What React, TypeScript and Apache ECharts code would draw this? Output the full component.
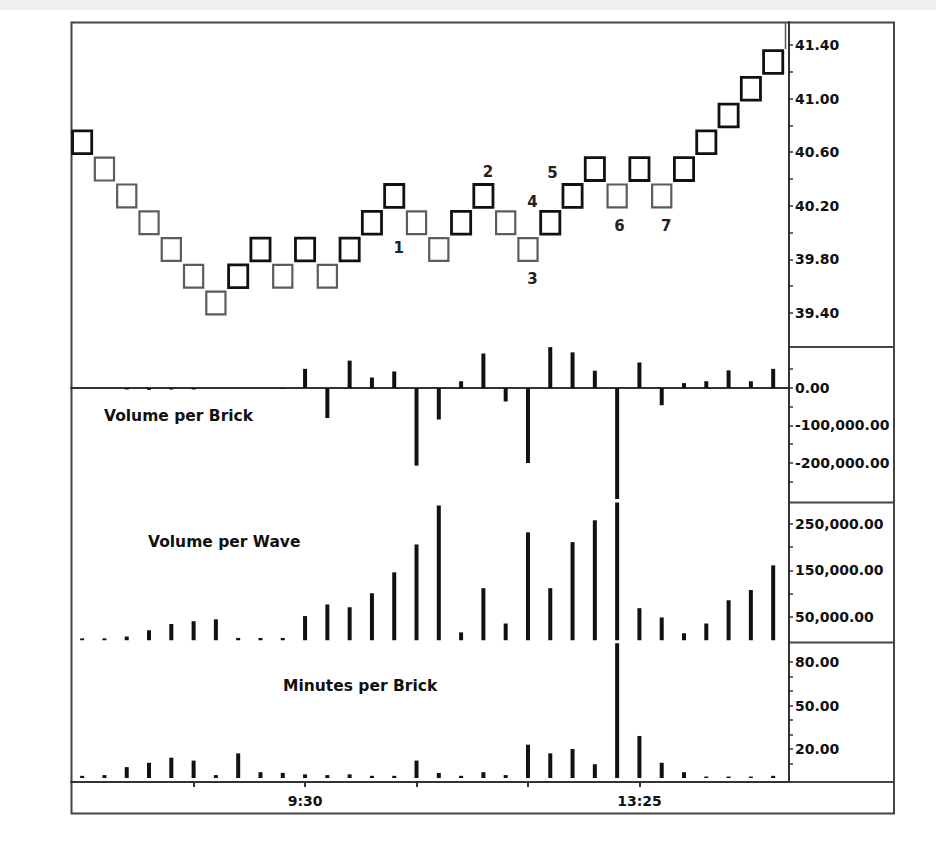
import React, { useEffect, useRef } from 'react';
import * as echarts from 'echarts';

// Renko bricks: lower edge of each brick and its direction (1 = up, -1 = down)
const brickSize = 0.2;
const brickLow = [
  40.6, 40.4, 40.2, 40.0, 39.8, 39.6, 39.4, 39.6, 39.8, 39.6, 39.8, 39.6, 39.8, 40.0, 40.2, 40.0,
  39.8, 40.0, 40.2, 40.0, 39.8, 40.0, 40.2, 40.4, 40.2, 40.4, 40.2, 40.4, 40.6, 40.8, 41.0, 41.2
];
const brickDir = [
  1, -1, -1, -1, -1, -1, -1, 1, 1, -1, 1, -1, 1, 1, 1, -1,
  -1, 1, 1, -1, -1, 1, 1, 1, -1, 1, -1, 1, 1, 1, 1, 1
];

// wave numbers written on the price panel
const waveText = ['1', '2', '3', '4', '5', '6', '7'];
const waveX = [14.2, 18.2, 20.2, 20.2, 21.1, 24.1, 26.2];
const waveY = [39.885, 40.45, 39.655, 40.23, 40.445, 40.05, 40.05];

const volumePerBrick = [
  0, 0, -4000, -5000, -4000, -4000, 0, 0, 0, -2000, 51000, -80000, 73000, 28000, 44000, -207000,
  -84000, 18000, 92000, -36000, -200000, 109000, 95000, 46000, -296000, 68000, -46000, 13000, 18000, 47000, 18000, 51000
];
const volumePerWave = [
  4000, 4000, 8000, 21500, 35000, 41000, 45000, 5000, 5000, 5000, 52000, 77000, 71000, 101000, 146000, 206000,
  290000, 17000, 112000, 36000, 232000, 112000, 211000, 258000, 296000, 69000, 49000, 15000, 36000, 86000, 108000, 161000
];
const minutesPerBrick = [
  1.5, 2, 7.5, 10.5, 14, 12, 2, 17, 4, 3.5, 2.5, 2, 2.5, 1.5, 1.5, 12,
  3.5, 1.5, 4, 2, 23, 17, 20, 9.5, 93, 29, 10.5, 4, 1, 1, 1, 1.5
];

const priceLabels = [39.4, 39.8, 40.2, 40.6, 41.0, 41.4];
const priceTicks = [39.4, 39.6, 39.8, 40.0, 40.2, 40.4, 40.6, 40.8, 41.0, 41.2, 41.4];
const vbLabels = [0, -100000, -200000];
const vbTicks = [50000, 0, -50000, -100000, -150000, -200000, -250000];
const vwLabels = [50000, 150000, 250000];
const vwTicks = [50000, 100000, 150000, 200000, 250000];
const minLabels = [20, 50, 80];
const minTicks = [10, 20, 30, 40, 50, 60, 70, 80];
const timeTicks = [5, 10, 15, 20, 25];
const timeLabelAt = [10, 25];
const timeLabels = ['9:30', '13:25'];

const FONT = 'DejaVu Sans';
const INK = '#111';

const fmt = (v: number) =>
  v.toLocaleString('en-US', { minimumFractionDigits: 2, maximumFractionDigits: 2 });

const App: React.FC = () => {
  const chartRef = useRef<HTMLDivElement>(null);

  useEffect(() => {
    document.body.style.margin = '0';
    if (!chartRef.current) return;
    const chart = echarts.init(chartRef.current, undefined, { renderer: 'svg' });

    const left = 71;
    const right = 936 - 789;
    const grids = [
      { left, right, top: 22, height: 325 },
      { left, right, top: 347, height: 155 },
      { left, right, top: 502, height: 140 },
      { left, right, top: 642, height: 140 }
    ];

    const xBase = {
      type: 'value' as const,
      min: -0.5,
      max: 31.71,
      splitLine: { show: false },
      axisTick: { show: false },
      axisLabel: { show: false },
      axisLine: { show: false }
    };

    const yBase = (idx: number, min: number, max: number, labels: number[], ticks: number[], f: (v: number) => string) => ({
      type: 'value' as const,
      gridIndex: idx,
      position: 'right' as const,
      min,
      max,
      splitLine: { show: false },
      axisLine: { show: true, onZero: false, lineStyle: { color: '#333', width: 2 } },
      axisTick: { show: true, length: 4, customValues: ticks, lineStyle: { color: '#333', width: 1.5 } },
      axisLabel: {
        customValues: labels,
        formatter: (v: number) => f(v),
        margin: 6,
        color: INK,
        fontFamily: FONT,
        fontWeight: 'bold',
        fontSize: 14
      }
    });

    const barSeries = (idx: number, values: number[]) => ({
      type: 'bar' as const,
      xAxisIndex: idx,
      yAxisIndex: idx,
      barWidth: 4,
      itemStyle: { color: INK },
      data: values.map((v, i) => [i, v])
    });

    const title = (text: string, x: number, y: number) => ({
      type: 'text',
      left: x,
      top: y - 9,
      style: { text, fill: INK, font: `bold 15.5px "${FONT}"` }
    });

    chart.setOption({
      animation: false,
      backgroundColor: '#fff',
      grid: grids,
      xAxis: [
        { ...xBase, gridIndex: 0 },
        {
          ...xBase,
          gridIndex: 1,
          axisLine: { show: true, onZero: true, lineStyle: { color: '#333', width: 2 } }
        },
        { ...xBase, gridIndex: 2 },
        {
          ...xBase,
          gridIndex: 3,
          axisLine: { show: true, onZero: false, lineStyle: { color: '#333', width: 2 } },
          axisTick: { show: true, length: 5, customValues: timeTicks, lineStyle: { color: '#333', width: 2 } },
          axisLabel: {
            show: true,
            customValues: timeLabelAt,
            formatter: (v: number) => timeLabels[timeLabelAt.indexOf(Math.round(v))] ?? '',
            margin: 12,
            color: INK,
            fontFamily: FONT,
            fontWeight: 'bold',
            fontSize: 14
          }
        }
      ],
      yAxis: [
        yBase(0, 39.146, 41.572, priceLabels, priceTicks, v => v.toFixed(2)),
        yBase(1, -304000, 109300, vbLabels, vbTicks, fmt),
        yBase(2, -3760, 297300, vwLabels, vwTicks, fmt),
        yBase(3, -2.76, 93.8, minLabels, minTicks, fmt)
      ],
      series: [
        {
          type: 'custom',
          xAxisIndex: 0,
          yAxisIndex: 0,
          encode: { x: 0, y: [1, 2] },
          data: brickLow.map((lo, i) => [i, lo, lo + brickSize, brickDir[i]]),
          renderItem: (params: any, api: any) => {
            const i = api.value(0);
            const lo = api.coord([i, api.value(1)]);
            const hi = api.coord([i, api.value(2)]);
            const w = api.size([1, 0])[0] * 0.86;
            const up = api.value(3) > 0;
            return {
              type: 'rect',
              shape: { x: lo[0] - w / 2, y: hi[1] + 5.5, width: w, height: lo[1] - hi[1] - 4 },
              style: { fill: 'none', stroke: up ? '#111' : '#5c5c5c', lineWidth: up ? 2.8 : 2.2 }
            };
          }
        },
        {
          type: 'custom',
          xAxisIndex: 0,
          yAxisIndex: 0,
          encode: { x: 0, y: 1 },
          data: waveX.map((x, i) => [x, waveY[i]]),
          renderItem: (params: any, api: any) => {
            const p = api.coord([api.value(0), api.value(1)]);
            return {
              type: 'text',
              x: p[0],
              y: p[1],
              style: {
                text: waveText[params.dataIndex],
                fill: '#222',
                font: `bold 15px "${FONT}"`,
                align: 'center',
                verticalAlign: 'middle'
              }
            };
          }
        },
        barSeries(1, volumePerBrick),
        barSeries(2, volumePerWave),
        barSeries(3, minutesPerBrick)
      ],
      graphic: [
        { type: 'rect', shape: { x: 0, y: 0, width: 936, height: 10 }, style: { fill: '#efefef' }, silent: true },
        { type: 'rect', shape: { x: 71.5, y: 22.5, width: 822.5, height: 791 }, style: { fill: 'none', stroke: '#444', lineWidth: 2 } },
        { type: 'line', shape: { x1: 789, y1: 347, x2: 894, y2: 347 }, style: { stroke: '#444', lineWidth: 2 } },
        { type: 'line', shape: { x1: 789, y1: 502.5, x2: 894, y2: 502.5 }, style: { stroke: '#444', lineWidth: 2 } },
        { type: 'line', shape: { x1: 789, y1: 642.5, x2: 894, y2: 642.5 }, style: { stroke: '#444', lineWidth: 2 } },
        { type: 'line', shape: { x1: 71, y1: 782, x2: 894, y2: 782 }, style: { stroke: '#444', lineWidth: 2 } },
        { type: 'line', shape: { x1: 785.5, y1: 22, x2: 785.5, y2: 49 }, style: { stroke: '#555', lineWidth: 1.5 } },
        title('Volume per Brick', 104, 417),
        title('Volume per Wave', 148, 543),
        title('Minutes per Brick', 283, 687)
      ]
    });

    return () => {
      chart.dispose();
    };
  }, []);

  return <div ref={chartRef} style={{ width: 936, height: 844 }} />;
};

export default App;
